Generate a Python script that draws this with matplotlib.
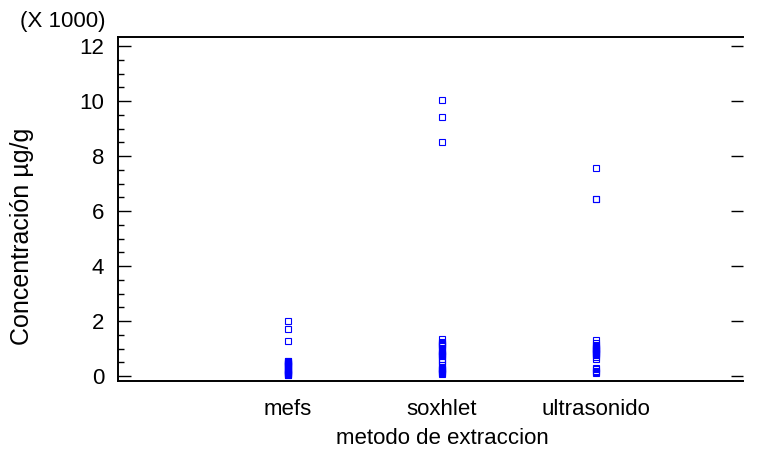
import matplotlib
matplotlib.use("Agg")
import matplotlib.pyplot as plt
from matplotlib.ticker import MultipleLocator

plt.rcParams['font.family'] = ['Liberation Sans', 'DejaVu Sans']

categories = ["mefs", "soxhlet", "ultrasonido"]
# values in thousands of µg/g
mefs = [2.01, 1.71, 1.26, 0.55, 0.53, 0.51, 0.49, 0.47, 0.45, 0.43, 0.39,
        0.37, 0.35, 0.30, 0.25, 0.23, 0.21, 0.17, 0.15, 0.13, 0.11, 0.09,
        0.07, 0.05, 0.03]
soxhlet = [10.04, 9.43, 8.52, 1.35, 1.23, 1.20, 1.17, 1.14, 1.11, 1.08,
           0.98, 0.90, 0.87, 0.84, 0.81, 0.78, 0.75, 0.72, 0.63, 0.53, 0.50,
           0.40, 0.30, 0.27, 0.24, 0.21, 0.18, 0.15, 0.12, 0.09]
ultrasonido = [7.55, 6.45, 6.42, 1.31, 1.20, 1.12, 1.09, 1.06, 1.03, 1.00,
               0.97, 0.94, 0.91, 0.88, 0.85, 0.82, 0.79, 0.76, 0.70, 0.63,
               0.29, 0.25, 0.19, 0.16, 0.12]
yticks = [0, 2, 4, 6, 8, 10, 12]

W, H = 759, 451
fig = plt.figure(figsize=(W / 100, H / 100), dpi=100)
left, right, top, bottom = 118, 743, 37, 381
ax = fig.add_axes([left / W, (H - bottom) / H, (right - left) / W, (bottom - top) / H])

for i, vals in enumerate([mefs, soxhlet, ultrasonido]):
    ax.plot([i + 1] * len(vals), vals, linestyle='none', marker='s',
            markersize=4.4, markerfacecolor='none', markeredgecolor='#0000ff',
            markeredgewidth=0.8)

ax.set_xlim(1 - (288 - left) / 154, 3 + (right - 596) / 154)
ax.set_ylim(-(bottom - 376) / 27.5, 12 + (46 - top) / 27.5)
ax.set_yticks(yticks)
ax.set_yticklabels([str(v) for v in yticks])
ax.yaxis.set_minor_locator(MultipleLocator(0.5))
ax.set_xticks([1, 2, 3])
ax.set_xticklabels(categories)

ax.tick_params(axis='y', which='both', direction='in', left=True,
               colors='black', labelsize=16)
ax.tick_params(axis='y', which='major', length=9, width=1.0, pad=10, right=True)
ax.tick_params(axis='y', which='minor', length=4.5, width=1.0, right=False)
ax.tick_params(axis='x', length=0, labelsize=16, pad=13)

for s in ['left', 'top', 'bottom']:
    ax.spines[s].set_linewidth(1.4)
ax.spines['right'].set_visible(False)

fig.text(442 / W, 1 - 438 / H, "metodo de extraccion", fontsize=16,
         ha='center', va='center')
fig.text(22 / W, 1 - 236 / H, "Concentración µg/g", fontsize=18,
         ha='center', va='center', rotation=90)
fig.text(20 / W, 1 - 22 / H, "(X 1000)", fontsize=16, ha='left', va='center')

fig.savefig("out.png", dpi=100)
